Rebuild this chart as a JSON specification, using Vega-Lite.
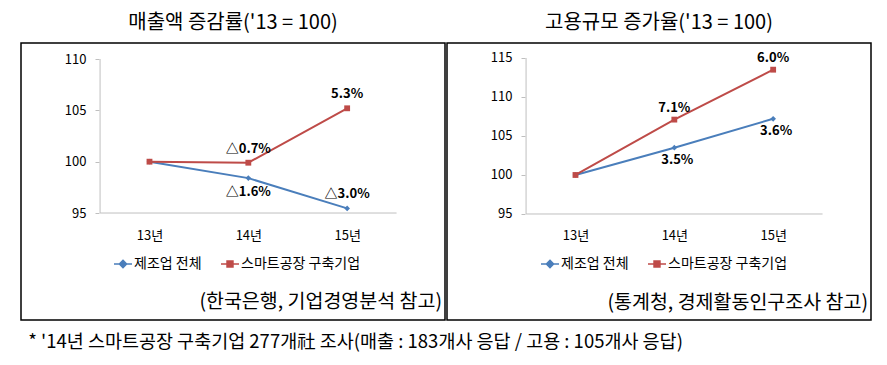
{
  "$schema": "https://vega.github.io/schema/vega-lite/v6.json",
  "padding": {"left": 20, "top": 12, "right": 0, "bottom": 0},
  "background": "white",
  "datasets": {
    "sales": [
      {"series": "제조업 전체", "year": 13, "value": 100, "label": ""},
      {"series": "제조업 전체", "year": 14, "value": 98.4, "label": "△1.6%"},
      {"series": "제조업 전체", "year": 15, "value": 95.45, "label": "△3.0%"},
      {"series": "스마트공장 구축기업", "year": 13, "value": 100, "label": ""},
      {"series": "스마트공장 구축기업", "year": 14, "value": 99.9, "label": "△0.7%"},
      {"series": "스마트공장 구축기업", "year": 15, "value": 105.2, "label": "5.3%"}
    ],
    "employment": [
      {"series": "제조업 전체", "year": 13, "value": 100, "label": ""},
      {"series": "제조업 전체", "year": 14, "value": 103.5, "label": "3.5%"},
      {"series": "제조업 전체", "year": 15, "value": 107.2, "label": "3.6%"},
      {"series": "스마트공장 구축기업", "year": 13, "value": 100, "label": ""},
      {"series": "스마트공장 구축기업", "year": 14, "value": 107.1, "label": "7.1%"},
      {"series": "스마트공장 구축기업", "year": 15, "value": 113.5, "label": "6.0%"}
    ]
  },
  "title": {
    "text": "* '14년 스마트공장 구축기업 277개社 조사(매출 : 183개사 응답 / 고용 : 105개사 응답)",
    "orient": "bottom", "anchor": "start", "font": "Noto Sans CJK KR", "fontSize": 18.5,
    "fontWeight": "normal", "color": "#000", "offset": 12, "dx": 8
  },
  "spacing": 0,
  "hconcat": [
    {
      "width": 424, "height": 277,
      "title": {"text": "매출액 증감률('13 = 100)", "font": "Noto Sans CJK KR", "fontSize": 20, "fontWeight": "normal", "color": "#000", "offset": 10, "anchor": "middle"},
      "data": {"name": "sales"},
      "layer": [
        {
          "mark": {"type": "line", "strokeWidth": 2},
          "encoding": {
            "x": {"field": "year", "type": "quantitative", "scale": {"domain": [11.7, 15.99], "nice": false, "zero": false},
              "axis": {"values": [13, 14, 15], "labelExpr": "datum.value + '년'", "title": null}},
            "y": {"field": "value", "type": "quantitative", "scale": {"domain": [84.58, 111.56], "nice": false, "zero": false},
              "axis": {"values": [95, 100, 105, 110], "title": null}},
            "color": {"field": "series", "type": "nominal",
              "scale": {"domain": ["제조업 전체", "스마트공장 구축기업"], "range": ["#4a7ebb", "#be4b48"]},
              "legend": {"orient": "none", "legendX": 92, "legendY": 211, "direction": "horizontal", "title": null,
                "labelFont": "Noto Sans CJK KR", "labelFontSize": 14, "labelColor": "#000", "columnPadding": 16, "labelOffset": 1, "symbolSize": 324,
                "encode": {"symbols": {"update": {
                  "shape": {"signal": "datum.value === '제조업 전체' ? 'M-1,0H1M0,-0.4L0.4,0L0,0.4L-0.4,0Z' : 'M-1,0H1M-0.33,-0.33H0.33V0.33H-0.33Z'"},
                  "fill": {"signal": "datum.value === '제조업 전체' ? '#4a7ebb' : '#be4b48'"},
                  "stroke": {"signal": "datum.value === '제조업 전체' ? '#4a7ebb' : '#be4b48'"},
                  "strokeWidth": {"value": 1.5},
                  "opacity": {"value": 1}
                }}}}}
          }
        },
        {
          "data": {"values": [{}]},
          "mark": {"type": "rule", "color": "#bfbfbf", "strokeWidth": 1},
          "encoding": {
            "x": {"datum": 12.5, "type": "quantitative", "scale": {"domain": [11.7, 15.99], "nice": false, "zero": false}, "axis": {"values": [13, 14, 15], "labelExpr": "datum.value + '년'", "title": null}},
            "y": {"datum": 95, "type": "quantitative", "scale": {"domain": [84.58, 111.56], "nice": false, "zero": false}, "axis": {"values": [95, 100, 105, 110], "title": null}},
            "y2": {"datum": 110}
          }
        },
        {
          "data": {"values": [{}]},
          "mark": {"type": "rule", "color": "#bfbfbf", "strokeWidth": 1},
          "encoding": {
            "x": {"datum": 12.5, "type": "quantitative", "scale": {"domain": [11.7, 15.99], "nice": false, "zero": false}, "axis": {"values": [13, 14, 15], "labelExpr": "datum.value + '년'", "title": null}},
            "x2": {"datum": 15.5},
            "y": {"datum": 95, "type": "quantitative", "scale": {"domain": [84.58, 111.56], "nice": false, "zero": false}, "axis": {"values": [95, 100, 105, 110], "title": null}}
          }
        },
        {
          "transform": [{"filter": "datum.series == '제조업 전체'"}],
          "mark": {"type": "point", "filled": true, "size": 32, "opacity": 1, "shape": "diamond"},
          "encoding": {
            "x": {"field": "year", "type": "quantitative", "scale": {"domain": [11.7, 15.99], "nice": false, "zero": false}, "axis": {"values": [13, 14, 15], "labelExpr": "datum.value + '년'", "title": null}},
            "y": {"field": "value", "type": "quantitative", "scale": {"domain": [84.58, 111.56], "nice": false, "zero": false}, "axis": {"values": [95, 100, 105, 110], "title": null}},
            "color": {"field": "series", "type": "nominal", "scale": {"domain": ["제조업 전체", "스마트공장 구축기업"], "range": ["#4a7ebb", "#be4b48"]}, "legend": null}
          }
        },
        {
          "transform": [{"filter": "datum.series == '스마트공장 구축기업'"}],
          "mark": {"type": "point", "filled": true, "size": 34, "opacity": 1, "shape": "square"},
          "encoding": {
            "x": {"field": "year", "type": "quantitative", "scale": {"domain": [11.7, 15.99], "nice": false, "zero": false}, "axis": {"values": [13, 14, 15], "labelExpr": "datum.value + '년'", "title": null}},
            "y": {"field": "value", "type": "quantitative", "scale": {"domain": [84.58, 111.56], "nice": false, "zero": false}, "axis": {"values": [95, 100, 105, 110], "title": null}},
            "color": {"field": "series", "type": "nominal", "scale": {"domain": ["제조업 전체", "스마트공장 구축기업"], "range": ["#4a7ebb", "#be4b48"]}, "legend": null}
          }
        },
        {
          "transform": [{"filter": "datum.year > 13 && (datum.series == '스마트공장 구축기업' || datum.year == 15)"}],
          "mark": {"type": "text", "font": "Noto Sans CJK KR", "fontSize": 13, "fontWeight": "bold", "color": "#000", "dy": -14, "baseline": "middle"},
          "encoding": {
            "x": {"field": "year", "type": "quantitative", "scale": {"domain": [11.7, 15.99], "nice": false, "zero": false}, "axis": {"values": [13, 14, 15], "labelExpr": "datum.value + '년'", "title": null}},
            "y": {"field": "value", "type": "quantitative", "scale": {"domain": [84.58, 111.56], "nice": false, "zero": false}, "axis": {"values": [95, 100, 105, 110], "title": null}},
            "text": {"field": "label"}
          }
        },
        {
          "transform": [{"filter": "datum.year == 14 && datum.series == '제조업 전체'"}],
          "mark": {"type": "text", "font": "Noto Sans CJK KR", "fontSize": 13, "fontWeight": "bold", "color": "#000", "dy": 14, "baseline": "middle"},
          "encoding": {
            "x": {"field": "year", "type": "quantitative", "scale": {"domain": [11.7, 15.99], "nice": false, "zero": false}, "axis": {"values": [13, 14, 15], "labelExpr": "datum.value + '년'", "title": null}},
            "y": {"field": "value", "type": "quantitative", "scale": {"domain": [84.58, 111.56], "nice": false, "zero": false}, "axis": {"values": [95, 100, 105, 110], "title": null}},
            "text": {"field": "label"}
          }
        },
        {
          "data": {"values": [{"src": "(한국은행, 기업경영분석 참고)"}]},
          "mark": {"type": "text", "font": "Noto Sans CJK KR", "fontSize": 19.5, "fontWeight": "normal", "color": "#000", "align": "right", "baseline": "middle", "dx": -3},
          "encoding": {
            "x": {"datum": 15.99, "type": "quantitative", "scale": {"domain": [11.7, 15.99], "nice": false, "zero": false}, "axis": {"values": [13, 14, 15], "labelExpr": "datum.value + '년'", "title": null}},
            "y": {"datum": 86.3, "type": "quantitative", "scale": {"domain": [84.58, 111.56], "nice": false, "zero": false}, "axis": {"values": [95, 100, 105, 110], "title": null}},
            "text": {"field": "src"}
          }
        }
      ]
    },
    {
      "width": 424, "height": 277,
      "title": {"text": "고용규모 증가율('13 = 100)", "font": "Noto Sans CJK KR", "fontSize": 20, "fontWeight": "normal", "color": "#000", "offset": 10, "anchor": "middle"},
      "data": {"name": "employment"},
      "layer": [
        {
          "mark": {"type": "line", "strokeWidth": 2},
          "encoding": {
            "x": {"field": "year", "type": "quantitative", "scale": {"domain": [11.7, 15.99], "nice": false, "zero": false},
              "axis": {"values": [13, 14, 15], "labelExpr": "datum.value + '년'", "title": null}},
            "y": {"field": "value", "type": "quantitative", "scale": {"domain": [81.41, 116.92], "nice": false, "zero": false},
              "axis": {"values": [95, 100, 105, 110, 115], "title": null}},
            "color": {"field": "series", "type": "nominal",
              "scale": {"domain": ["제조업 전체", "스마트공장 구축기업"], "range": ["#4a7ebb", "#be4b48"]},
              "legend": {"orient": "none", "legendX": 93, "legendY": 211, "direction": "horizontal", "title": null,
                "labelFont": "Noto Sans CJK KR", "labelFontSize": 14, "labelColor": "#000", "columnPadding": 16, "labelOffset": 1, "symbolSize": 324,
                "encode": {"symbols": {"update": {
                  "shape": {"signal": "datum.value === '제조업 전체' ? 'M-1,0H1M0,-0.4L0.4,0L0,0.4L-0.4,0Z' : 'M-1,0H1M-0.33,-0.33H0.33V0.33H-0.33Z'"},
                  "fill": {"signal": "datum.value === '제조업 전체' ? '#4a7ebb' : '#be4b48'"},
                  "stroke": {"signal": "datum.value === '제조업 전체' ? '#4a7ebb' : '#be4b48'"},
                  "strokeWidth": {"value": 1.5},
                  "opacity": {"value": 1}
                }}}}}
          }
        },
        {
          "data": {"values": [{}]},
          "mark": {"type": "rule", "color": "#bfbfbf", "strokeWidth": 1},
          "encoding": {
            "x": {"datum": 12.5, "type": "quantitative", "scale": {"domain": [11.7, 15.99], "nice": false, "zero": false}, "axis": {"values": [13, 14, 15], "labelExpr": "datum.value + '년'", "title": null}},
            "y": {"datum": 95, "type": "quantitative", "scale": {"domain": [81.41, 116.92], "nice": false, "zero": false}, "axis": {"values": [95, 100, 105, 110, 115], "title": null}},
            "y2": {"datum": 115}
          }
        },
        {
          "data": {"values": [{}]},
          "mark": {"type": "rule", "color": "#bfbfbf", "strokeWidth": 1},
          "encoding": {
            "x": {"datum": 12.5, "type": "quantitative", "scale": {"domain": [11.7, 15.99], "nice": false, "zero": false}, "axis": {"values": [13, 14, 15], "labelExpr": "datum.value + '년'", "title": null}},
            "x2": {"datum": 15.5},
            "y": {"datum": 95, "type": "quantitative", "scale": {"domain": [81.41, 116.92], "nice": false, "zero": false}, "axis": {"values": [95, 100, 105, 110, 115], "title": null}}
          }
        },
        {
          "transform": [{"filter": "datum.series == '제조업 전체'"}],
          "mark": {"type": "point", "filled": true, "size": 32, "opacity": 1, "shape": "diamond"},
          "encoding": {
            "x": {"field": "year", "type": "quantitative", "scale": {"domain": [11.7, 15.99], "nice": false, "zero": false}, "axis": {"values": [13, 14, 15], "labelExpr": "datum.value + '년'", "title": null}},
            "y": {"field": "value", "type": "quantitative", "scale": {"domain": [81.41, 116.92], "nice": false, "zero": false}, "axis": {"values": [95, 100, 105, 110, 115], "title": null}},
            "color": {"field": "series", "type": "nominal", "scale": {"domain": ["제조업 전체", "스마트공장 구축기업"], "range": ["#4a7ebb", "#be4b48"]}, "legend": null}
          }
        },
        {
          "transform": [{"filter": "datum.series == '스마트공장 구축기업'"}],
          "mark": {"type": "point", "filled": true, "size": 34, "opacity": 1, "shape": "square"},
          "encoding": {
            "x": {"field": "year", "type": "quantitative", "scale": {"domain": [11.7, 15.99], "nice": false, "zero": false}, "axis": {"values": [13, 14, 15], "labelExpr": "datum.value + '년'", "title": null}},
            "y": {"field": "value", "type": "quantitative", "scale": {"domain": [81.41, 116.92], "nice": false, "zero": false}, "axis": {"values": [95, 100, 105, 110, 115], "title": null}},
            "color": {"field": "series", "type": "nominal", "scale": {"domain": ["제조업 전체", "스마트공장 구축기업"], "range": ["#4a7ebb", "#be4b48"]}, "legend": null}
          }
        },
        {
          "transform": [{"filter": "datum.year > 13 && datum.series == '스마트공장 구축기업'"}],
          "mark": {"type": "text", "font": "Noto Sans CJK KR", "fontSize": 13, "fontWeight": "bold", "color": "#000", "dy": -12, "baseline": "middle"},
          "encoding": {
            "x": {"field": "year", "type": "quantitative", "scale": {"domain": [11.7, 15.99], "nice": false, "zero": false}, "axis": {"values": [13, 14, 15], "labelExpr": "datum.value + '년'", "title": null}},
            "y": {"field": "value", "type": "quantitative", "scale": {"domain": [81.41, 116.92], "nice": false, "zero": false}, "axis": {"values": [95, 100, 105, 110, 115], "title": null}},
            "text": {"field": "label"}
          }
        },
        {
          "transform": [{"filter": "datum.year > 13 && datum.series == '제조업 전체'"}],
          "mark": {"type": "text", "font": "Noto Sans CJK KR", "fontSize": 13, "fontWeight": "bold", "color": "#000", "dy": 12, "dx": 3, "baseline": "middle"},
          "encoding": {
            "x": {"field": "year", "type": "quantitative", "scale": {"domain": [11.7, 15.99], "nice": false, "zero": false}, "axis": {"values": [13, 14, 15], "labelExpr": "datum.value + '년'", "title": null}},
            "y": {"field": "value", "type": "quantitative", "scale": {"domain": [81.41, 116.92], "nice": false, "zero": false}, "axis": {"values": [95, 100, 105, 110, 115], "title": null}},
            "text": {"field": "label"}
          }
        },
        {
          "data": {"values": [{"src": "(통계청, 경제활동인구조사 참고)"}]},
          "mark": {"type": "text", "font": "Noto Sans CJK KR", "fontSize": 19.5, "fontWeight": "normal", "color": "#000", "align": "right", "baseline": "middle", "dx": -3},
          "encoding": {
            "x": {"datum": 15.99, "type": "quantitative", "scale": {"domain": [11.7, 15.99], "nice": false, "zero": false}, "axis": {"values": [13, 14, 15], "labelExpr": "datum.value + '년'", "title": null}},
            "y": {"datum": 83.6, "type": "quantitative", "scale": {"domain": [81.41, 116.92], "nice": false, "zero": false}, "axis": {"values": [95, 100, 105, 110, 115], "title": null}},
            "text": {"field": "src"}
          }
        }
      ]
    }
  ],
  "resolve": {
    "scale": {"x": "independent", "y": "independent", "color": "independent"},
    "legend": {"color": "independent"}
  },
  "config": {
    "view": {"stroke": "#000", "strokeWidth": 1.5},
    "font": "Noto Sans CJK KR",
    "axisX": {"offset": -91, "domain": false, "ticks": false, "grid": false, "labelPadding": 0, "labelFlush": false, "labelOverlap": false, "labelFont": "Noto Sans CJK KR", "labelFontSize": 13, "labelColor": "#000", "zindex": 1},
    "axisY": {"offset": -78, "domain": false, "grid": false, "ticks": true, "tickSize": 4, "tickColor": "#bfbfbf", "labelPadding": 9, "labelFlush": false, "labelOverlap": false, "labelFont": "Noto Sans CJK KR", "labelFontSize": 13, "labelColor": "#000", "zindex": 1}
  }
}
